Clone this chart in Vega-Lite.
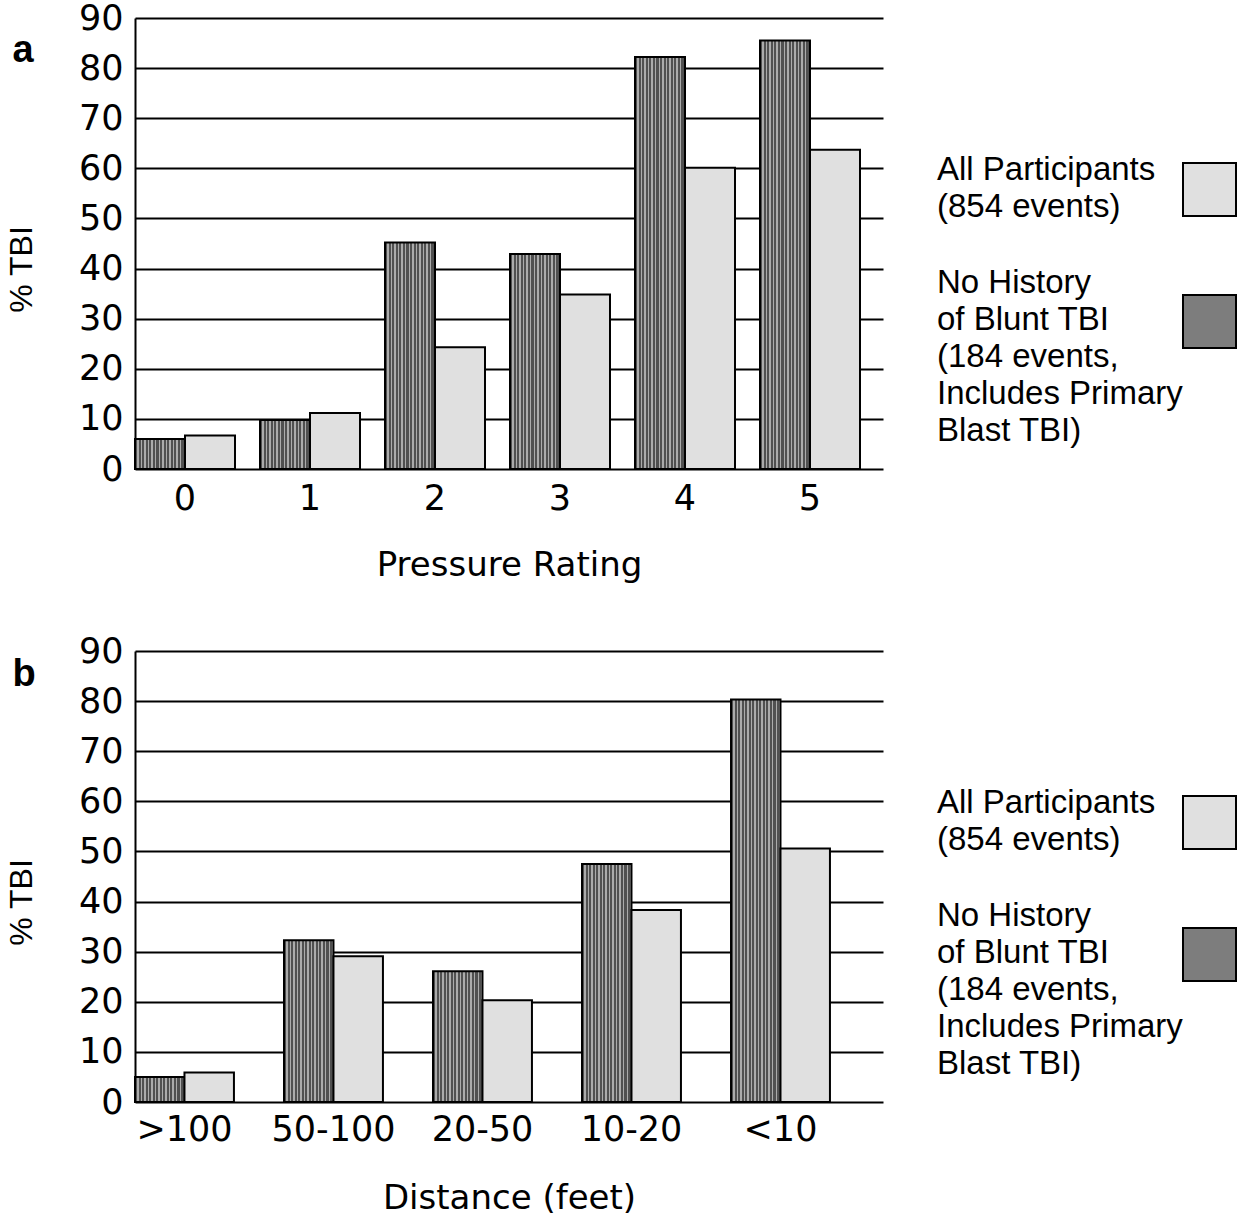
{
  "$schema": "https://vega.github.io/schema/vega-lite/v6.json",
  "padding": {"left": 5, "top": 1, "right": 0, "bottom": 0},
  "background": "white",
  "config": {
    "view": {"stroke": null},
    "concat": {"spacing": 52},
    "style": {"guide-label": {"lineHeight": 37}},
    "axis": {"labelFont": "DejaVu Sans", "titleFont": "DejaVu Sans", "labelColor": "black", "titleColor": "black", "titleFontWeight": "normal"}
  },
  "datasets": {
    "pressure": [
      {"rating": "0", "group": "NoHist", "pct": 6.0},
      {"rating": "0", "group": "All", "pct": 6.7},
      {"rating": "1", "group": "NoHist", "pct": 9.8},
      {"rating": "1", "group": "All", "pct": 11.2},
      {"rating": "2", "group": "NoHist", "pct": 45.2},
      {"rating": "2", "group": "All", "pct": 24.3},
      {"rating": "3", "group": "NoHist", "pct": 42.9},
      {"rating": "3", "group": "All", "pct": 34.8},
      {"rating": "4", "group": "NoHist", "pct": 82.2},
      {"rating": "4", "group": "All", "pct": 60.1},
      {"rating": "5", "group": "NoHist", "pct": 85.5},
      {"rating": "5", "group": "All", "pct": 63.7}
    ],
    "distance": [
      {"dist": ">100", "group": "NoHist", "pct": 5.0},
      {"dist": ">100", "group": "All", "pct": 5.9},
      {"dist": "50-100", "group": "NoHist", "pct": 32.3},
      {"dist": "50-100", "group": "All", "pct": 29.1},
      {"dist": "20-50", "group": "NoHist", "pct": 26.1},
      {"dist": "20-50", "group": "All", "pct": 20.3},
      {"dist": "10-20", "group": "NoHist", "pct": 47.5},
      {"dist": "10-20", "group": "All", "pct": 38.3},
      {"dist": "<10", "group": "NoHist", "pct": 80.3},
      {"dist": "<10", "group": "All", "pct": 50.6}
    ]
  },
  "resolve": {
    "scale": {"x": "independent", "y": "independent", "xOffset": "independent", "fill": "independent"},
    "legend": {"fill": "independent"},
    "axis": {"x": "independent", "y": "independent"}
  },
  "vconcat": [
    {
      "width": 748,
      "height": 451,
      "title": {"text": "a", "anchor": "start", "frame": "bounds", "font": "Liberation Sans", "fontSize": 38, "fontWeight": "bold", "color": "black", "dx": 7, "dy": 69, "offset": 0},
      "data": {"name": "pressure"},
      "mark": {"type": "bar", "stroke": "black", "strokeWidth": 2},
      "encoding": {
        "x": {
          "field": "rating", "type": "nominal",
          "scale": {"domain": ["0", "1", "2", "3", "4", "5"], "paddingInner": 0.2, "paddingOuter": 0.092, "align": 0},
          "axis": {"labelAngle": 0, "labelFontSize": 35, "labelPadding": 12, "domain": false, "ticks": false, "title": "Pressure Rating", "titleFontSize": 34, "titlePadding": 32}
        },
        "xOffset": {"field": "group", "type": "nominal", "scale": {"domain": ["NoHist", "All"], "paddingInner": 0, "paddingOuter": 0}},
        "y": {
          "field": "pct", "type": "quantitative",
          "scale": {"domain": [0, 90], "nice": false},
          "axis": {"values": [0, 10, 20, 30, 40, 50, 60, 70, 80, 90], "grid": true, "gridColor": "black", "gridWidth": 2, "gridOpacity": 1, "domain": true, "domainColor": "black", "domainWidth": 2, "ticks": false, "labelFontSize": 35, "labelPadding": 12, "title": "% TBI", "titleFont": "Liberation Sans", "titleFontSize": 32, "titlePadding": 40, "titleY": 251}
        },
        "fill": {
          "field": "group", "type": "nominal",
          "condition": {"test": "datum.group == 'NoHist'", "value": {"gradient": "linear", "x1": 0, "y1": 0, "x2": 1, "y2": 0, "stops": [
            {"offset": 0, "color": "#505050"}, {"offset": 0.0429, "color": "#505050"}, {"offset": 0.0429, "color": "#ababab"}, {"offset": 0.0714, "color": "#ababab"},
            {"offset": 0.0714, "color": "#505050"}, {"offset": 0.1143, "color": "#505050"}, {"offset": 0.1143, "color": "#ababab"}, {"offset": 0.1429, "color": "#ababab"},
            {"offset": 0.1429, "color": "#505050"}, {"offset": 0.1857, "color": "#505050"}, {"offset": 0.1857, "color": "#ababab"}, {"offset": 0.2143, "color": "#ababab"},
            {"offset": 0.2143, "color": "#505050"}, {"offset": 0.2571, "color": "#505050"}, {"offset": 0.2571, "color": "#ababab"}, {"offset": 0.2857, "color": "#ababab"},
            {"offset": 0.2857, "color": "#505050"}, {"offset": 0.3286, "color": "#505050"}, {"offset": 0.3286, "color": "#ababab"}, {"offset": 0.3571, "color": "#ababab"},
            {"offset": 0.3571, "color": "#505050"}, {"offset": 0.4, "color": "#505050"}, {"offset": 0.4, "color": "#ababab"}, {"offset": 0.4286, "color": "#ababab"},
            {"offset": 0.4286, "color": "#505050"}, {"offset": 0.4714, "color": "#505050"}, {"offset": 0.4714, "color": "#ababab"}, {"offset": 0.5, "color": "#ababab"},
            {"offset": 0.5, "color": "#505050"}, {"offset": 0.5429, "color": "#505050"}, {"offset": 0.5429, "color": "#ababab"}, {"offset": 0.5714, "color": "#ababab"},
            {"offset": 0.5714, "color": "#505050"}, {"offset": 0.6143, "color": "#505050"}, {"offset": 0.6143, "color": "#ababab"}, {"offset": 0.6429, "color": "#ababab"},
            {"offset": 0.6429, "color": "#505050"}, {"offset": 0.6857, "color": "#505050"}, {"offset": 0.6857, "color": "#ababab"}, {"offset": 0.7143, "color": "#ababab"},
            {"offset": 0.7143, "color": "#505050"}, {"offset": 0.7571, "color": "#505050"}, {"offset": 0.7571, "color": "#ababab"}, {"offset": 0.7857, "color": "#ababab"},
            {"offset": 0.7857, "color": "#505050"}, {"offset": 0.8286, "color": "#505050"}, {"offset": 0.8286, "color": "#ababab"}, {"offset": 0.8571, "color": "#ababab"},
            {"offset": 0.8571, "color": "#505050"}, {"offset": 0.9, "color": "#505050"}, {"offset": 0.9, "color": "#ababab"}, {"offset": 0.9286, "color": "#ababab"},
            {"offset": 0.9286, "color": "#505050"}, {"offset": 0.9714, "color": "#505050"}, {"offset": 0.9714, "color": "#ababab"}, {"offset": 1, "color": "#ababab"}
          ]}},
          "scale": {"domain": ["All", "NoHist"], "range": ["#e0e0e0", "#7d7d7d"]},
          "legend": {
            "orient": "none", "legendX": 1047, "legendY": 144, "title": null,
            "symbolType": "square", "symbolSize": 2809, "symbolStrokeColor": "black", "symbolStrokeWidth": 2, "symbolOpacity": 1,
            "labelFont": "Liberation Sans", "labelFontSize": 33, "labelColor": "black", "labelLimit": 0,
            "labelOffset": -300, "labelAlign": "left", "labelBaseline": "middle", "rowPadding": 42,
            "labelExpr": "datum.value == 'All' ? ['All Participants', '(854 events)'] : ['No History', 'of Blunt TBI', '(184 events,', 'Includes Primary', 'Blast TBI)']",
            "encoding": {
              "labels": {"dy": {"condition": {"test": "datum.value == 'All'", "value": -20}, "value": -39}},
              "symbols": {"stroke": {"value": "black"}, "strokeWidth": {"value": 2}}
            }
          }
        }
      }
    },
    {
      "width": 748,
      "height": 451,
      "title": {"text": "b", "anchor": "start", "frame": "bounds", "font": "Liberation Sans", "fontSize": 38, "fontWeight": "bold", "color": "black", "dx": 7, "dy": 60, "offset": 0},
      "data": {"name": "distance"},
      "mark": {"type": "bar", "stroke": "black", "strokeWidth": 2},
      "encoding": {
        "x": {
          "field": "dist", "type": "nominal",
          "scale": {"domain": [">100", "50-100", "20-50", "10-20", "<10"], "paddingInner": 0.336, "paddingOuter": 0.178, "align": 0},
          "axis": {"labelAngle": 0, "labelFontSize": 35, "labelPadding": 10, "domain": false, "ticks": false, "title": "Distance (feet)", "titleFontSize": 34, "titlePadding": 34}
        },
        "xOffset": {"field": "group", "type": "nominal", "scale": {"domain": ["NoHist", "All"], "paddingInner": 0, "paddingOuter": 0}},
        "y": {
          "field": "pct", "type": "quantitative",
          "scale": {"domain": [0, 90], "nice": false},
          "axis": {"values": [0, 10, 20, 30, 40, 50, 60, 70, 80, 90], "grid": true, "gridColor": "black", "gridWidth": 2, "gridOpacity": 1, "domain": true, "domainColor": "black", "domainWidth": 2, "ticks": false, "labelFontSize": 35, "labelPadding": 12, "title": "% TBI", "titleFont": "Liberation Sans", "titleFontSize": 32, "titlePadding": 40, "titleY": 251}
        },
        "fill": {
          "field": "group", "type": "nominal",
          "condition": {"test": "datum.group == 'NoHist'", "value": {"gradient": "linear", "x1": 0, "y1": 0, "x2": 1, "y2": 0, "stops": [
            {"offset": 0, "color": "#505050"}, {"offset": 0.0429, "color": "#505050"}, {"offset": 0.0429, "color": "#ababab"}, {"offset": 0.0714, "color": "#ababab"},
            {"offset": 0.0714, "color": "#505050"}, {"offset": 0.1143, "color": "#505050"}, {"offset": 0.1143, "color": "#ababab"}, {"offset": 0.1429, "color": "#ababab"},
            {"offset": 0.1429, "color": "#505050"}, {"offset": 0.1857, "color": "#505050"}, {"offset": 0.1857, "color": "#ababab"}, {"offset": 0.2143, "color": "#ababab"},
            {"offset": 0.2143, "color": "#505050"}, {"offset": 0.2571, "color": "#505050"}, {"offset": 0.2571, "color": "#ababab"}, {"offset": 0.2857, "color": "#ababab"},
            {"offset": 0.2857, "color": "#505050"}, {"offset": 0.3286, "color": "#505050"}, {"offset": 0.3286, "color": "#ababab"}, {"offset": 0.3571, "color": "#ababab"},
            {"offset": 0.3571, "color": "#505050"}, {"offset": 0.4, "color": "#505050"}, {"offset": 0.4, "color": "#ababab"}, {"offset": 0.4286, "color": "#ababab"},
            {"offset": 0.4286, "color": "#505050"}, {"offset": 0.4714, "color": "#505050"}, {"offset": 0.4714, "color": "#ababab"}, {"offset": 0.5, "color": "#ababab"},
            {"offset": 0.5, "color": "#505050"}, {"offset": 0.5429, "color": "#505050"}, {"offset": 0.5429, "color": "#ababab"}, {"offset": 0.5714, "color": "#ababab"},
            {"offset": 0.5714, "color": "#505050"}, {"offset": 0.6143, "color": "#505050"}, {"offset": 0.6143, "color": "#ababab"}, {"offset": 0.6429, "color": "#ababab"},
            {"offset": 0.6429, "color": "#505050"}, {"offset": 0.6857, "color": "#505050"}, {"offset": 0.6857, "color": "#ababab"}, {"offset": 0.7143, "color": "#ababab"},
            {"offset": 0.7143, "color": "#505050"}, {"offset": 0.7571, "color": "#505050"}, {"offset": 0.7571, "color": "#ababab"}, {"offset": 0.7857, "color": "#ababab"},
            {"offset": 0.7857, "color": "#505050"}, {"offset": 0.8286, "color": "#505050"}, {"offset": 0.8286, "color": "#ababab"}, {"offset": 0.8571, "color": "#ababab"},
            {"offset": 0.8571, "color": "#505050"}, {"offset": 0.9, "color": "#505050"}, {"offset": 0.9, "color": "#ababab"}, {"offset": 0.9286, "color": "#ababab"},
            {"offset": 0.9286, "color": "#505050"}, {"offset": 0.9714, "color": "#505050"}, {"offset": 0.9714, "color": "#ababab"}, {"offset": 1, "color": "#ababab"}
          ]}},
          "scale": {"domain": ["All", "NoHist"], "range": ["#e0e0e0", "#7d7d7d"]},
          "legend": {
            "orient": "none", "legendX": 1047, "legendY": 144, "title": null,
            "symbolType": "square", "symbolSize": 2809, "symbolStrokeColor": "black", "symbolStrokeWidth": 2, "symbolOpacity": 1,
            "labelFont": "Liberation Sans", "labelFontSize": 33, "labelColor": "black", "labelLimit": 0,
            "labelOffset": -300, "labelAlign": "left", "labelBaseline": "middle", "rowPadding": 42,
            "labelExpr": "datum.value == 'All' ? ['All Participants', '(854 events)'] : ['No History', 'of Blunt TBI', '(184 events,', 'Includes Primary', 'Blast TBI)']",
            "encoding": {
              "labels": {"dy": {"condition": {"test": "datum.value == 'All'", "value": -20}, "value": -39}},
              "symbols": {"stroke": {"value": "black"}, "strokeWidth": {"value": 2}}
            }
          }
        }
      }
    }
  ]
}
